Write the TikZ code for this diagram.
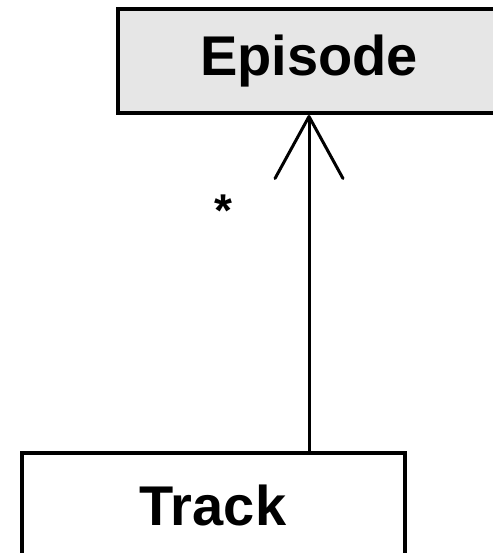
\documentclass[tikz,border=0pt]{standalone}
\usepackage{fontspec}
\setmainfont{Liberation Sans}
\usetikzlibrary{arrows.meta,positioning}
\definecolor{classgray}{RGB}{230,230,230}

\begin{document}
\begin{tikzpicture}[x=1pt,y=1pt]
\tikzset{every node/.style={inner sep=0pt}}
\tikzset{ClassStyle/.style={draw, line width=4pt, minimum width=383pt,
          minimum height=104pt, font=\fontsize{56}{60}\selectfont\bfseries}}
\tikzset{AssocStyle/.style={line width=3pt,
          -{Straight Barb[length=62pt,width=68pt,line width=3pt,round]}}}
 \useasboundingbox (0,0) rectangle (492,-553);
  \node[ClassStyle, fill=classgray] (episode) at (309,-61) {Episode};
  \node[ClassStyle, fill=white] (track) at (213,-505) {Track};
  \node[font=\fontsize{46}{50}\selectfont\bfseries] (mult)
       [below left=80pt and 76pt of episode.south] {*};
\draw[AssocStyle] (track.north -| episode.south) -- (episode.south);
\end{tikzpicture}
\end{document}
